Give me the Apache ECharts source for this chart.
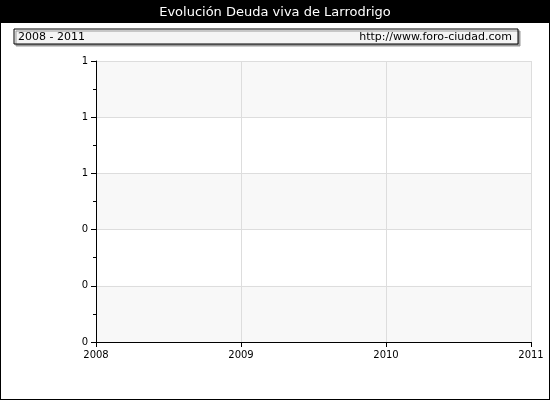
<!DOCTYPE html>
<html><head><meta charset="utf-8">
<script src="https://cdn.jsdelivr.net/npm/echarts@6/dist/echarts.min.js"></script>
<style>html,body{margin:0;padding:0;background:#fff}#c{width:550px;height:400px;box-sizing:border-box;border:1px solid #000}</style>
</head><body><div id="c"></div>
<script>
const title = 'Evolución Deuda viva de Larrodrigo';
const period = '2008 - 2011';
const site = 'http://www.foro-ciudad.com';
const years = [2008, 2009, 2010, 2011];
const yTicks = [0, 0.2, 0.4, 0.6, 0.8, 1];
const debtValues = [];
const chart = echarts.init(document.getElementById('c'), null, {width:548, height:398});
const F = 'DejaVu Sans';
chart.setOption({
  animation:false,
  textStyle:{fontFamily:F},
  graphic:[
    {type:'rect',shape:{x:0,y:0,width:548,height:22},style:{fill:'#000'}},
    {type:'text',style:{text:title,x:274,y:12,align:'center',verticalAlign:'middle',fill:'#fff',font:'13px '+F}},
    {type:'rect',shape:{x:13,y:28,width:504,height:15},style:{fill:'#f4f4f4',stroke:'#000',lineWidth:1,shadowColor:'#999',shadowOffsetX:2,shadowOffsetY:2}},
    {type:'text',style:{text:period,x:17,y:36,verticalAlign:'middle',fill:'#000',font:'11px '+F}},
    {type:'text',style:{text:site,x:511,y:36,align:'right',verticalAlign:'middle',fill:'#000',font:'11px '+F}}
  ],
  grid:{left:95,right:18,top:60,bottom:57},
  xAxis:{type:'value',min:years[0],max:years[years.length-1],interval:1,
    axisLine:{lineStyle:{color:'#000'}},axisTick:{lineStyle:{color:'#000'},length:5},
    axisLabel:{color:'#000',fontSize:10,fontFamily:F,formatter:v=>String(v)},
    splitLine:{show:true,lineStyle:{color:'#ddd'}}},
  yAxis:{type:'value',min:yTicks[0],max:yTicks[yTicks.length-1],interval:0.2,
    axisLine:{show:true,lineStyle:{color:'#000'}},axisTick:{show:true,lineStyle:{color:'#000'},length:5},
    minorTick:{show:true,splitNumber:2,length:3,lineStyle:{color:'#000'}},
    axisLabel:{color:'#000',fontSize:10,fontFamily:F,formatter:v=>String(Math.round(v))},
    splitLine:{show:true,lineStyle:{color:'#ddd'}},
    splitArea:{show:true,areaStyle:{color:['#f8f8f8','#ffffff']}}},
  series:[{type:'line',data:debtValues}]
});
</script></body></html>
